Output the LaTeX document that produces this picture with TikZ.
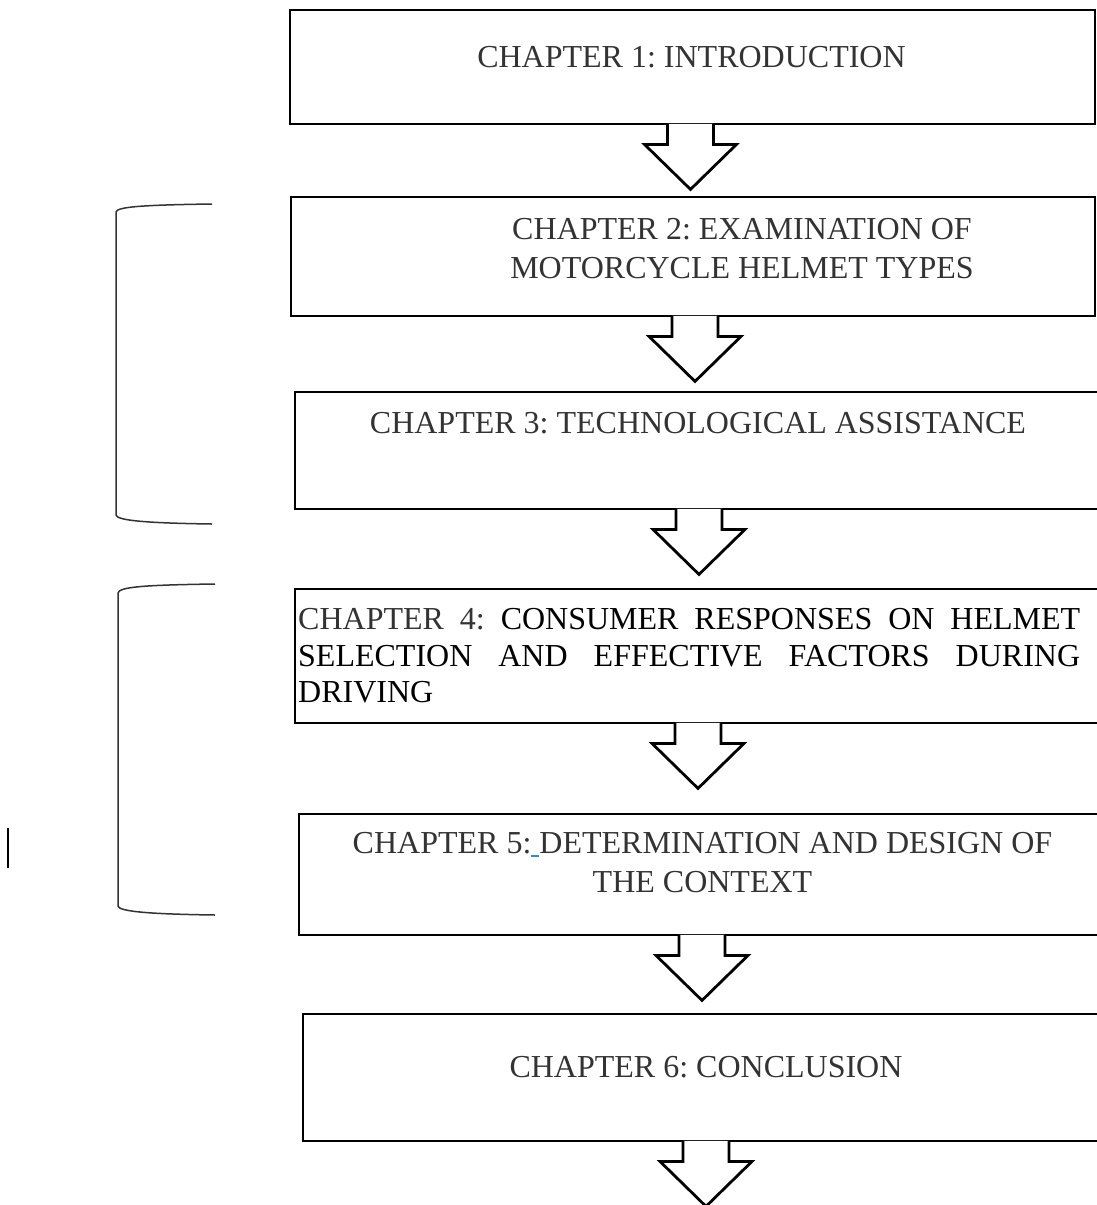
\documentclass[tikz,border=0pt]{standalone}
\usepackage{fontspec}
\setmainfont{Liberation Serif}

\definecolor{chapgray}{RGB}{51,51,51}
\definecolor{linkblue}{RGB}{46,140,210}

\newcommand{\chapterfont}{\fontsize{32}{39}\selectfont\frenchspacing}
% block arrow hanging below a chapter box, #2 = shift from the box centre
\newcommand{\chapterarrow}[2]{%
  \draw[block-arrow] ([xshift=#2pt-23pt, yshift=1.5pt]#1.south) -- ++(0,20.5) -- ++(-23,0) -- ++(46,45) -- ++(46,-45) -- ++(-23,0) -- ++(0,-20.5);
}

\begin{document}
\begin{tikzpicture}[x=1pt, y=-1pt,
	chapter-box/.style={draw, line width=2.8pt, inner sep=0pt},
	chapter-text/.style={font=\chapterfont, text=chapgray, align=center, inner sep=0pt, anchor=north},
	block-arrow/.style={draw, fill=white, line width=2.8pt},
	bracket/.style={draw=black!80, line width=1.5pt}]
	\useasboundingbox (0,0) rectangle (1096,1205);

	\node[chapter-box, minimum width=805pt, minimum height=114pt] at (692.5,67) (chapter-1) {};
	\node[chapter-box, minimum width=804pt, minimum height=119pt] at (693,256.5) (chapter-2) {};
	\node[chapter-box, minimum width=803pt, minimum height=117pt] at (696.5,450.5) (chapter-3) {};
	\node[chapter-box, minimum width=803pt, minimum height=134pt] at (696.5,656) (chapter-4) {};
	\node[chapter-box, minimum width=799pt, minimum height=121pt] at (698.5,874.5) (chapter-5) {};
	\node[chapter-box, minimum width=795pt, minimum height=127pt] at (700.5,1077.5) (chapter-6) {};

	\node[chapter-text] at (691.5,46.5) (chapter-1-text) {CHAPTER 1: INTRODUCTION};
	\node[chapter-text] at (742,218.5) (chapter-2-text) {CHAPTER 2: EXAMINATION OF\\MOTORCYCLE HELMET TYPES};
	\node[chapter-text] at (698,412.5) (chapter-3-text) {CHAPTER 3: TECHNOLOGICAL ASSISTANCE};
	\node[chapter-text, anchor=north west, align=left, text=black] at (298,608.5) (chapter-4-text) {\parbox[t]{782pt}{\fontsize{32}{36.5}\selectfont\frenchspacing\tolerance=10000\hyphenpenalty=10000\parindent=0pt
		\textcolor{chapgray}{CHAPTER 4:} CONSUMER RESPONSES ON HELMET\linebreak SELECTION AND EFFECTIVE FACTORS DURING\linebreak DRIVING}};
	\node[chapter-text] at (702.5,832.5) (chapter-5-text) {CHAPTER 5:\textcolor{linkblue}{\rule[-3pt]{8pt}{2pt}}DETERMINATION AND DESIGN OF\\THE CONTEXT};
	\node[chapter-text] at (706,1056.5) (chapter-6-text) {CHAPTER 6: CONCLUSION};

	\chapterarrow{chapter-1}{-2}
	\chapterarrow{chapter-2}{2}
	\chapterarrow{chapter-3}{2.5}
	\chapterarrow{chapter-4}{1.5}
	\chapterarrow{chapter-5}{3.5}
	\chapterarrow{chapter-6}{5.5}

	% brackets grouping the chapters
	\draw[bracket] (212,204) .. controls (140,205) and (117,207) .. (116,212) -- (116,515) .. controls (117,520) and (140,523) .. (212,524);
	\draw[bracket] (215,584) .. controls (143,585) and (119,587) .. (118,593) -- (118,906) .. controls (119,911) and (143,914) .. (215,915);

	\draw[line width=2pt] (8,828) -- (8,868);
\end{tikzpicture}
\end{document}
